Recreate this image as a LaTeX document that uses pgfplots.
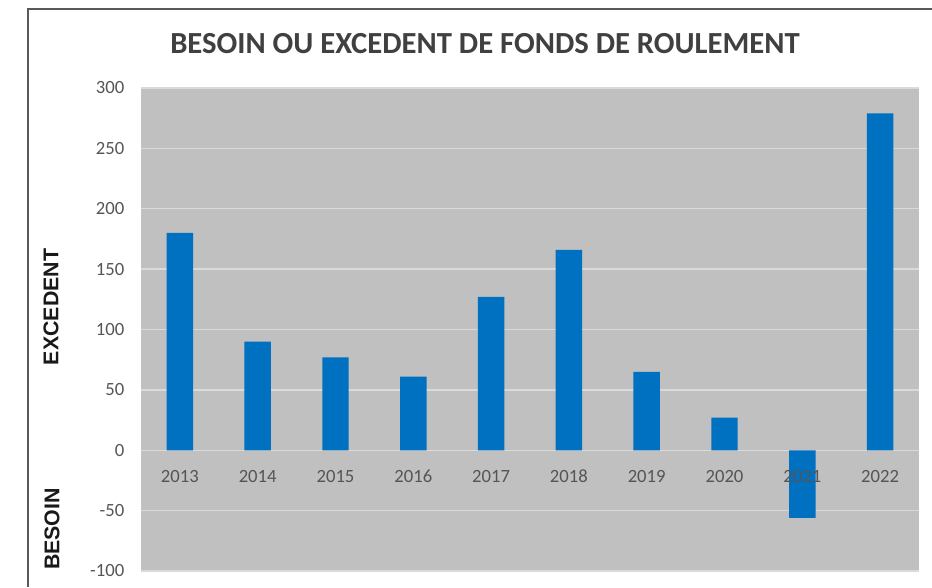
\documentclass[border=0pt]{standalone}
\usepackage{fontspec}
\setmainfont{Carlito}
\newfontfamily\arialfont{Liberation Sans}
\usepackage{pgfplots}
\pgfplotsset{compat=1.18}
\definecolor{barblue}{HTML}{0070C0}
\definecolor{plotgray}{HTML}{C0C0C0}
\definecolor{gridc}{HTML}{DADADA}
\definecolor{ticktxt}{HTML}{555555}
\definecolor{titletxt}{HTML}{404040}
\begin{document}
\begin{tikzpicture}[x=0.75pt,y=0.75pt]
\path[use as bounding box] (0,0) rectangle (932,587);
\draw[line width=1.6pt, color=black!65] (28,0) -- (28,578) -- (932,578);
\node[font=\fontsize{23}{26}\selectfont\bfseries, text=titletxt] at (485,543) {BESOIN OU EXCEDENT DE FONDS DE ROULEMENT};
\node[font=\arialfont\bfseries\fontsize{16}{18}\selectfont, rotate=90, text=black!90] at (51,280) {EXCEDENT};
\node[font=\arialfont\bfseries\fontsize{16}{18}\selectfont, rotate=90, text=black!90] at (52,58) {BESOIN};
\begin{axis}[
  at={(105.75pt,12pt)}, anchor=south west, scale only axis,
  width=583.5pt, height=362.25pt,
  xmin=-0.5, xmax=9.5, ymin=-100, ymax=300,
  axis line style={draw=none},
  axis background/.style={fill=plotgray},
  xtick={0,...,9},
  xticklabels={},
  ytick={-100,-50,...,300},
  major tick length=0pt,
  ymajorgrids, grid style={gridc, line width=1.1pt},
  /pgf/number format/assume math mode=true,
  yticklabel style={font=\fontsize{14}{16}\selectfont, text=ticktxt, anchor=east, xshift=-9pt},
  clip=false,
]
\addplot[ybar, bar width=0.34, bar shift=0pt, fill=barblue, draw=none]
  coordinates {(0,180) (1,90) (2,77) (3,61) (4,127) (5,166) (6,65) (7,27) (8,-56) (9,279)};
\begin{scope}[every node/.style={font=\fontsize{14}{16}\selectfont, text=ticktxt, anchor=base, yshift=-24.5pt}]
\node at (axis cs:0,0) {2013};
\node at (axis cs:1,0) {2014};
\node at (axis cs:2,0) {2015};
\node at (axis cs:3,0) {2016};
\node at (axis cs:4,0) {2017};
\node at (axis cs:5,0) {2018};
\node at (axis cs:6,0) {2019};
\node at (axis cs:7,0) {2020};
\node at (axis cs:8,0) {2021};
\node at (axis cs:9,0) {2022};
\end{scope}
\end{axis}
\end{tikzpicture}
\end{document}
